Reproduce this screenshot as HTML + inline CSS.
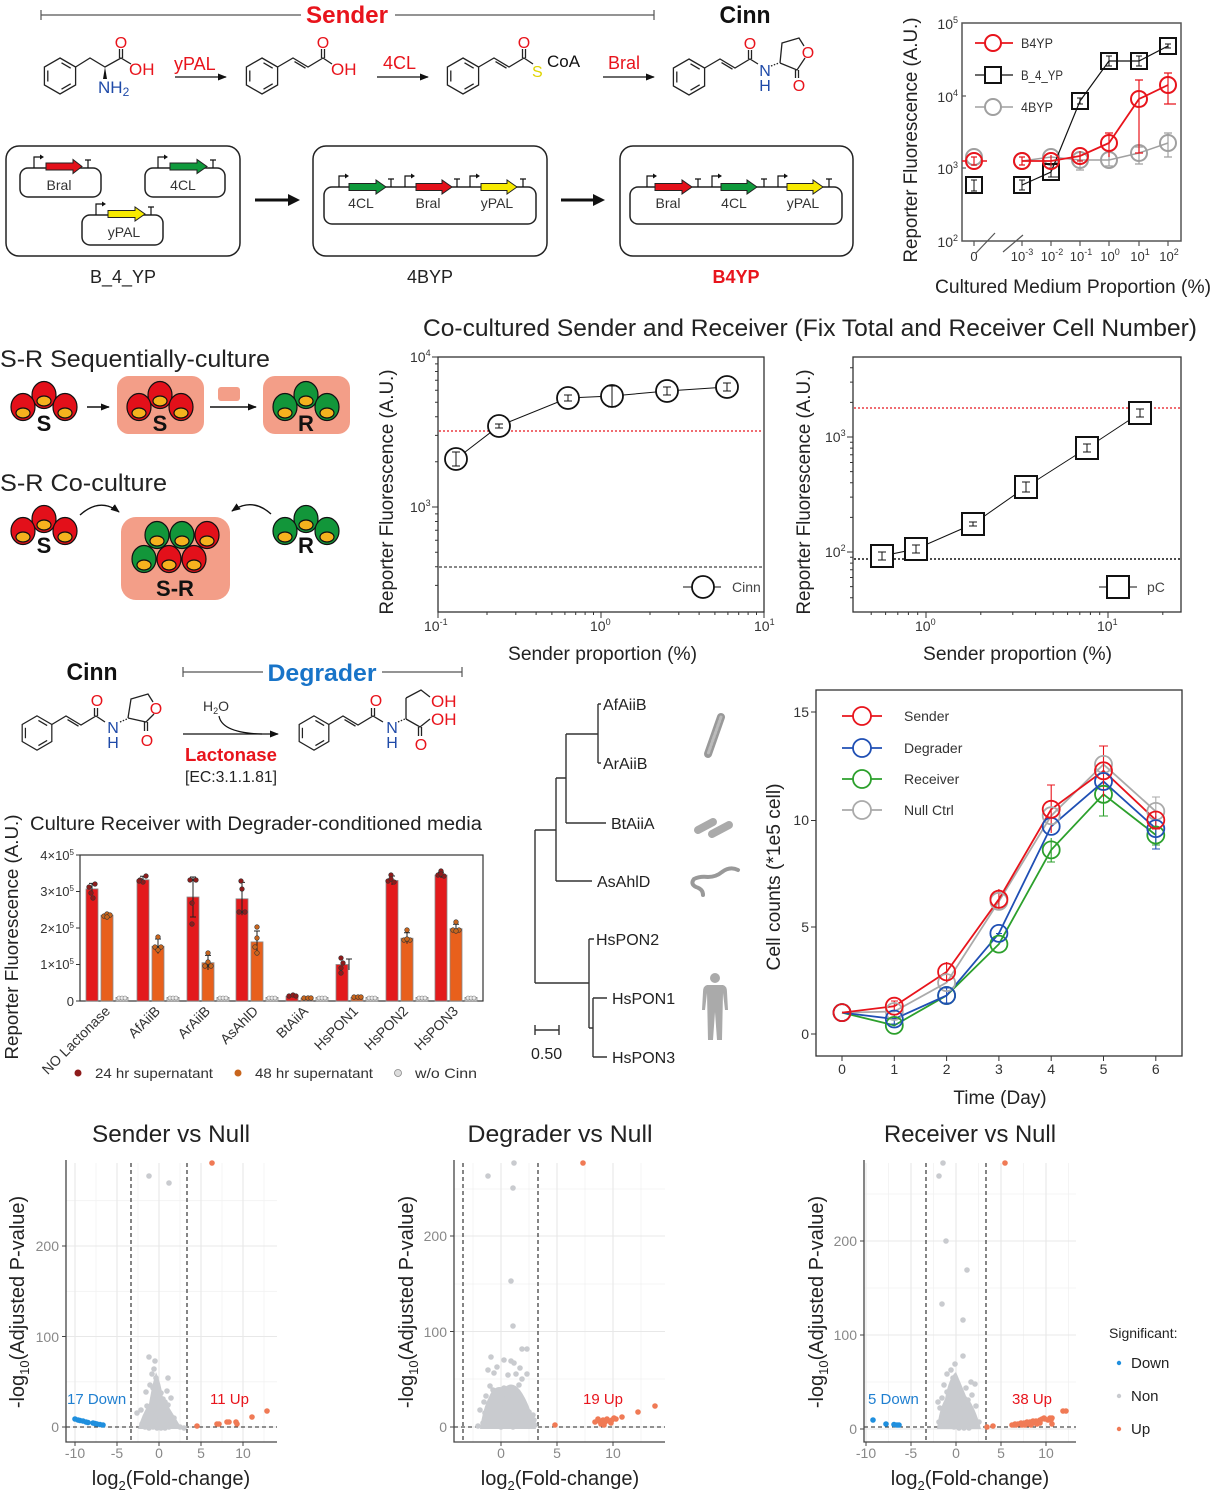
<!DOCTYPE html>
<html><head><meta charset="utf-8">
<style>
html,body{margin:0;padding:0;background:#fff;width:1214px;height:1497px;overflow:hidden}
svg{display:block}
text{font-family:"Liberation Sans","DejaVu Sans",sans-serif}
</style></head><body>
<svg xmlns="http://www.w3.org/2000/svg" xmlns:xlink="http://www.w3.org/1999/xlink" width="1214" height="1497" viewBox="0 0 1214 1497">
<defs>
<g id="bz" fill="none" stroke="#222" stroke-width="1.3">
<polygon points="0,-18 15.6,-9 15.6,9 0,18 -15.6,9 -15.6,-9"/>
<line x1="-12.2" y1="-5.5" x2="-12.2" y2="5.5"/>
<line x1="1.5" y1="-13.2" x2="10.7" y2="-7.8"/>
<line x1="10.7" y1="7.8" x2="1.5" y2="13.2"/>
</g>
<marker id="ar" viewBox="0 0 10 10" refX="9" refY="5" markerWidth="9" markerHeight="9" markerUnits="userSpaceOnUse" orient="auto"><path d="M0,1 L10,5 L0,9 z" fill="#111"/></marker>
<g id="cR" stroke="#111" stroke-width="1.2">
<ellipse cx="0" cy="-8" rx="12" ry="13.5" fill="#e3101a"/><ellipse cx="0" cy="-2" rx="7" ry="5" fill="#f5b21e"/>
<ellipse cx="-21" cy="4" rx="12" ry="13.5" fill="#e3101a"/><ellipse cx="-21" cy="10" rx="7" ry="5" fill="#f5b21e"/>
<ellipse cx="21" cy="4" rx="12" ry="13.5" fill="#e3101a"/><ellipse cx="21" cy="10" rx="7" ry="5" fill="#f5b21e"/>
</g>
<g id="cG" stroke="#111" stroke-width="1.2">
<ellipse cx="0" cy="-8" rx="12" ry="13.5" fill="#12963a"/><ellipse cx="0" cy="-2" rx="7" ry="5" fill="#f5b21e"/>
<ellipse cx="-21" cy="4" rx="12" ry="13.5" fill="#12963a"/><ellipse cx="-21" cy="10" rx="7" ry="5" fill="#f5b21e"/>
<ellipse cx="21" cy="4" rx="12" ry="13.5" fill="#12963a"/><ellipse cx="21" cy="10" rx="7" ry="5" fill="#f5b21e"/>
</g>
</defs>

<!-- ================= TOP PATHWAY ================= -->
<g stroke="#555" stroke-width="1.2">
<line x1="41" y1="15" x2="301" y2="15"/><line x1="41" y1="10" x2="41" y2="20"/>
<line x1="395" y1="15" x2="654" y2="15"/><line x1="654" y1="10" x2="654" y2="20"/>
</g>
<text x="347" y="23" text-anchor="middle" font-size="24" font-weight="bold" fill="#e8141c" textLength="82" lengthAdjust="spacingAndGlyphs">Sender</text>
<text x="745" y="23" text-anchor="middle" font-size="24" font-weight="bold" fill="#111" textLength="51" lengthAdjust="spacingAndGlyphs">Cinn</text>

<!-- Phe -->
<use xlink:href="#bz" x="60" y="76"/>
<g fill="none" stroke="#222" stroke-width="1.3">
<polyline points="75.6,67 90,58 105,67 121,58 131,64"/>
<line x1="119.5" y1="58" x2="119.5" y2="49"/><line x1="122.5" y1="58" x2="122.5" y2="49"/>
</g>
<polygon points="105,67 103,79 107,79" fill="#111"/>
<text x="121" y="48" text-anchor="middle" font-size="16" fill="#e8141c">O</text>
<text x="129" y="75" font-size="17" fill="#e8141c">OH</text>
<text x="98" y="93" font-size="17" fill="#1f4aa8">NH<tspan font-size="12" dy="3">2</tspan></text>
<text x="174" y="70" font-size="18" fill="#e8141c">yPAL</text>
<line x1="175" y1="77" x2="226" y2="77" stroke="#111" stroke-width="1.3" marker-end="url(#ar)"/>

<!-- cinnamic acid -->
<use xlink:href="#bz" x="262" y="76"/>
<g fill="none" stroke="#222" stroke-width="1.3">
<polyline points="277.6,67 293,58 308,67 323,58 332,64"/>
<line x1="294.5" y1="61.6" x2="305.5" y2="68.2"/>
<line x1="321.5" y1="58" x2="321.5" y2="49"/><line x1="324.5" y1="58" x2="324.5" y2="49"/>
</g>
<text x="323" y="48" text-anchor="middle" font-size="16" fill="#e8141c">O</text>
<text x="331" y="75" font-size="17" fill="#e8141c">OH</text>
<text x="383" y="69" font-size="18" fill="#e8141c">4CL</text>
<line x1="377" y1="77" x2="428" y2="77" stroke="#111" stroke-width="1.3" marker-end="url(#ar)"/>

<!-- cinnamoyl CoA -->
<use xlink:href="#bz" x="463" y="76"/>
<g fill="none" stroke="#222" stroke-width="1.3">
<polyline points="478.6,67 494,58 509,67 524,58 533,64"/>
<line x1="495.5" y1="61.6" x2="506.5" y2="68.2"/>
<line x1="522.5" y1="58" x2="522.5" y2="49"/><line x1="525.5" y1="58" x2="525.5" y2="49"/>
</g>
<text x="524" y="48" text-anchor="middle" font-size="16" fill="#e8141c">O</text>
<text x="532" y="77" font-size="16" fill="#e0d400">S</text>
<text x="547" y="67" font-size="17" fill="#111">CoA</text>
<text x="608" y="69" font-size="18" fill="#e8141c">Bral</text>
<line x1="603" y1="77" x2="654" y2="77" stroke="#111" stroke-width="1.3" marker-end="url(#ar)"/>

<!-- Cinn -->
<use xlink:href="#bz" x="689" y="77"/>
<g fill="none" stroke="#222" stroke-width="1.3">
<polyline points="704.6,68 720,59 735,68 750,59 758,64"/>
<line x1="721.5" y1="62.6" x2="732.5" y2="69.2"/>
<line x1="748.5" y1="59" x2="748.5" y2="50"/><line x1="751.5" y1="59" x2="751.5" y2="50"/>
<polyline points="780,63 782,43 799,38 804,46"/>
<polyline points="805,58 797,70 780,63"/>
<line x1="795.5" y1="70" x2="795.5" y2="78"/><line x1="798.5" y1="70" x2="798.5" y2="78"/>
<line x1="771" y1="66" x2="779" y2="63" stroke-dasharray="1.5,1.5"/>
</g>
<text x="750" y="49" text-anchor="middle" font-size="16" fill="#e8141c">O</text>
<text x="765" y="76" text-anchor="middle" font-size="16" fill="#1f4aa8">N</text>
<text x="765" y="91" text-anchor="middle" font-size="16" fill="#1f4aa8">H</text>
<text x="808" y="58" text-anchor="middle" font-size="16" fill="#e8141c">O</text>
<text x="799" y="91" text-anchor="middle" font-size="16" fill="#e8141c">O</text>

<!-- gene boxes -->
<g fill="none" stroke="#222" stroke-width="1.5">
<rect x="6" y="146" width="234" height="110" rx="13"/>
<rect x="313" y="146" width="234" height="110" rx="13"/>
<rect x="620" y="146" width="233" height="110" rx="13"/>
<rect x="20" y="168" width="81" height="29" rx="8"/>
<rect x="145" y="168" width="80" height="29" rx="8"/>
<rect x="82" y="215" width="81" height="30" rx="8"/>
<rect x="324" y="187" width="212" height="37" rx="8"/>
<rect x="630" y="187" width="212" height="37" rx="8"/>
</g>
<g fill="none" stroke="#111" stroke-width="1.2">
<path d="M34,168V157H40M158,168V157H164M96,215V204H102M339,187V176H345M405,187V176H411M470,187V176H476M647,187V176H653M712,187V176H718M778,187V176H784"/>
<path d="M88,168V160M85,160H91M213,168V160M210,160H216M151,215V207M148,207H154M391,187V179M388,179H394M457,187V179M454,179H460M523,187V179M520,179H526M698,187V179M695,179H701M764,187V179M761,179H767M829,187V179M826,179H832"/>
</g>
<g fill="#111">
<polygon points="40,154.5 44,157 40,159.5"/><polygon points="164,154.5 168,157 164,159.5"/><polygon points="102,201.5 106,204 102,206.5"/>
<polygon points="345,173.5 349,176 345,178.5"/><polygon points="411,173.5 415,176 411,178.5"/><polygon points="476,173.5 480,176 476,178.5"/>
<polygon points="653,173.5 657,176 653,178.5"/><polygon points="718,173.5 722,176 718,178.5"/><polygon points="784,173.5 788,176 784,178.5"/>
</g>
<g stroke="#222" stroke-width="1">
<polygon points="46,163 73,163 73,159.5 82,166.5 73,173.5 73,170 46,170" fill="#e3101a"/>
<polygon points="170,163 197,163 197,159.5 207,166.5 197,173.5 197,170 170,170" fill="#0f9a3c"/>
<polygon points="108,210.5 135,210.5 135,207 145,214 135,221 135,217.5 108,217.5" fill="#f7ea00"/>
<polygon points="349,183.5 376,183.5 376,180 386,187 376,194 376,190.5 349,190.5" fill="#0f9a3c"/>
<polygon points="416,183.5 442,183.5 442,180 452,187 442,194 442,190.5 416,190.5" fill="#e3101a"/>
<polygon points="481,183.5 507,183.5 507,180 517,187 507,194 507,190.5 481,190.5" fill="#f7ea00"/>
<polygon points="655,183.5 682,183.5 682,180 692,187 682,194 682,190.5 655,190.5" fill="#e3101a"/>
<polygon points="721,183.5 747,183.5 747,180 757,187 747,194 747,190.5 721,190.5" fill="#0f9a3c"/>
<polygon points="787,183.5 813,183.5 813,180 823,187 813,194 813,190.5 787,190.5" fill="#f7ea00"/>
</g>
<g font-size="14" fill="#333" text-anchor="middle">
<text x="59" y="190">Bral</text><text x="183" y="190">4CL</text><text x="124" y="237">yPAL</text>
<text x="361" y="208">4CL</text><text x="428" y="208">Bral</text><text x="497" y="208">yPAL</text>
<text x="668" y="208">Bral</text><text x="734" y="208">4CL</text><text x="803" y="208">yPAL</text>
</g>
<line x1="255" y1="200" x2="290" y2="200" stroke="#111" stroke-width="3"/><polygon points="288,194 300,200 288,206" fill="#111"/>
<line x1="561" y1="200" x2="595" y2="200" stroke="#111" stroke-width="3"/><polygon points="593,194 605,200 593,206" fill="#111"/>
<text x="123" y="283" text-anchor="middle" font-size="18" fill="#222">B_4_YP</text>
<text x="430" y="283" text-anchor="middle" font-size="18" fill="#222">4BYP</text>
<text x="736" y="283" text-anchor="middle" font-size="18" font-weight="bold" fill="#e8141c">B4YP</text>

<!-- ================= TOP RIGHT CHART ================= -->
<rect x="962" y="23" width="219" height="218" fill="none" stroke="#555" stroke-width="1.5"/>
<g stroke="#555" stroke-width="1.2">
<line x1="962" y1="96" x2="966" y2="96"/><line x1="962" y1="168" x2="966" y2="168"/>
<line x1="974" y1="241" x2="974" y2="246"/><line x1="1022" y1="241" x2="1022" y2="246"/><line x1="1051" y1="241" x2="1051" y2="246"/><line x1="1080" y1="241" x2="1080" y2="246"/><line x1="1109" y1="241" x2="1109" y2="246"/><line x1="1139" y1="241" x2="1139" y2="246"/><line x1="1168" y1="241" x2="1168" y2="246"/>
<line x1="976" y1="253" x2="995" y2="233"/><line x1="1003" y1="252" x2="1023" y2="235"/>
</g>
<g font-size="14" fill="#333" text-anchor="end">
<text x="958" y="29">10<tspan font-size="9" dy="-6">5</tspan></text>
<text x="958" y="102">10<tspan font-size="9" dy="-6">4</tspan></text>
<text x="958" y="174">10<tspan font-size="9" dy="-6">3</tspan></text>
<text x="958" y="247">10<tspan font-size="9" dy="-6">2</tspan></text>
</g>
<g font-size="13" fill="#333" text-anchor="middle">
<text x="974" y="261">0</text>
<text x="1022" y="261">10<tspan font-size="9" dy="-6">-3</tspan></text>
<text x="1052" y="261">10<tspan font-size="9" dy="-6">-2</tspan></text>
<text x="1081" y="261">10<tspan font-size="9" dy="-6">-1</tspan></text>
<text x="1110" y="261">10<tspan font-size="9" dy="-6">0</tspan></text>
<text x="1140" y="261">10<tspan font-size="9" dy="-6">1</tspan></text>
<text x="1169" y="261">10<tspan font-size="9" dy="-6">2</tspan></text>
</g>
<text x="935" y="293" font-size="19" fill="#222" textLength="276" lengthAdjust="spacingAndGlyphs">Cultured Medium Proportion (%)</text>
<text transform="translate(917,140) rotate(-90)" text-anchor="middle" font-size="19" fill="#222" textLength="245" lengthAdjust="spacingAndGlyphs">Reporter Fluorescence (A.U.)</text>
<polyline points="1022,161 1051,157 1080,160 1109,160 1139,153 1168,143" fill="none" stroke="#a0a0a0" stroke-width="1.5"/>
<g stroke="#a0a0a0" stroke-width="1.2" fill="none">
<path d="M1168,133V157M1164,133H1172M1164,157H1172M1139,147V164M1135,147H1143M1135,164H1143M1080,152V170M1076,170H1084M1109,154V166M1105,166H1113"/>
<circle cx="974" cy="157" r="8" stroke-width="2"/><circle cx="1022" cy="161" r="8" stroke-width="2"/><circle cx="1051" cy="157" r="8" stroke-width="2"/><circle cx="1080" cy="160" r="8" stroke-width="2"/><circle cx="1109" cy="160" r="8" stroke-width="2"/><circle cx="1139" cy="153" r="8" stroke-width="2"/><circle cx="1168" cy="143" r="8" stroke-width="2"/>
</g>
<polyline points="1022,185 1051,172 1080,101 1109,61 1139,61 1168,46" fill="none" stroke="#111" stroke-width="1.2"/>
<g stroke="#111" stroke-width="2" fill="none">
<rect x="966" y="177" width="16" height="16"/><rect x="1014" y="177" width="16" height="16"/><rect x="1043" y="164" width="16" height="16"/><rect x="1072" y="93" width="16" height="16"/><rect x="1101" y="53" width="16" height="16"/><rect x="1131" y="53" width="16" height="16"/><rect x="1160" y="38" width="16" height="16"/>
</g>
<g stroke="#111" stroke-width="1" fill="none">
<path d="M974,180V191M971,180H977M971,191H977M1022,180V190M1019,180H1025M1019,190H1025M1051,168V177M1048,168H1054M1048,177H1060M1080,98V104M1077,98H1083M1077,104H1083M1109,56V66M1106,56H1112M1106,66H1112M1139,56V66M1136,56H1142M1136,66H1142M1168,44V48M1165,44H1171M1165,48H1171"/>
</g>
<polyline points="1022,161 1051,161 1080,156 1109,143 1139,99 1168,85" fill="none" stroke="#e8141c" stroke-width="1.8"/>
<g stroke="#e8141c" stroke-width="1.2" fill="none">
<path d="M1139,80V153M1135,80H1143M1135,153H1143M1168,73V104M1164,73H1172M1164,104H1176M1109,133V157M1105,133H1113M1080,151V161M1077,161H1083M1022,157V165M1019,157H1025M1019,165H1025M974,157V165M971,157H977M971,165H977M1051,155V167"/>
<circle cx="974" cy="161" r="8" stroke-width="2"/><circle cx="1022" cy="161" r="8" stroke-width="2"/><circle cx="1051" cy="161" r="8" stroke-width="2"/><circle cx="1080" cy="156" r="8" stroke-width="2"/><circle cx="1109" cy="143" r="8" stroke-width="2"/><circle cx="1139" cy="99" r="8" stroke-width="2"/><circle cx="1168" cy="85" r="8" stroke-width="2"/>
<line x1="962" y1="161" x2="966" y2="161" stroke-width="1.5"/><line x1="982" y1="161" x2="987" y2="161" stroke-width="1.5"/>
</g>
<line x1="975" y1="43" x2="1013" y2="43" stroke="#e8141c" stroke-width="1.8"/><circle cx="993" cy="43" r="8" fill="#fff" stroke="#e8141c" stroke-width="2"/>
<line x1="975" y1="75" x2="1013" y2="75" stroke="#111" stroke-width="1.2"/><rect x="985" y="67" width="16" height="16" fill="#fff" stroke="#111" stroke-width="2"/>
<line x1="975" y1="107" x2="1013" y2="107" stroke="#a0a0a0" stroke-width="1.5"/><circle cx="993" cy="107" r="8" fill="#fff" stroke="#a0a0a0" stroke-width="2"/>
<g font-size="14" fill="#333">
<text x="1021" y="48" textLength="32" lengthAdjust="spacingAndGlyphs">B4YP</text>
<text x="1021" y="80" textLength="42" lengthAdjust="spacingAndGlyphs">B_4_YP</text>
<text x="1021" y="112" textLength="32" lengthAdjust="spacingAndGlyphs">4BYP</text>
</g>

<!-- ================= SECTION 2 LEFT ================= -->
<text x="0" y="367" font-size="24" fill="#222" textLength="270" lengthAdjust="spacingAndGlyphs">S-R Sequentially-culture</text>
<use xlink:href="#cR" x="44" y="403"/>
<text x="44" y="431" text-anchor="middle" font-size="22" font-weight="bold" fill="#111">S</text>
<line x1="87" y1="407" x2="109" y2="407" stroke="#111" stroke-width="1.5" marker-end="url(#ar)"/>
<rect x="117" y="376" width="87" height="58" rx="12" fill="#f39e88"/>
<use xlink:href="#cR" x="160" y="403"/>
<text x="160" y="431" text-anchor="middle" font-size="22" font-weight="bold" fill="#111">S</text>
<rect x="218" y="387" width="22" height="14" rx="3" fill="#f39e88"/>
<line x1="210" y1="407" x2="256" y2="407" stroke="#111" stroke-width="1.5" marker-end="url(#ar)"/>
<rect x="263" y="376" width="87" height="58" rx="12" fill="#f39e88"/>
<use xlink:href="#cG" x="306" y="403"/>
<text x="306" y="431" text-anchor="middle" font-size="22" font-weight="bold" fill="#111">R</text>

<text x="0" y="491" font-size="24" fill="#222" textLength="167" lengthAdjust="spacingAndGlyphs">S-R Co-culture</text>
<use xlink:href="#cR" x="44" y="527"/>
<text x="44" y="553" text-anchor="middle" font-size="22" font-weight="bold" fill="#111">S</text>
<use xlink:href="#cG" x="306" y="527"/>
<text x="306" y="553" text-anchor="middle" font-size="22" font-weight="bold" fill="#111">R</text>
<path d="M80,515 Q100,497 119,512" fill="none" stroke="#111" stroke-width="1.4" marker-end="url(#ar)"/>
<path d="M271,514 Q252,497 232,511" fill="none" stroke="#111" stroke-width="1.4" marker-end="url(#ar)"/>
<rect x="121" y="517" width="109" height="83" rx="15" fill="#f39e88"/>
<g stroke="#111" stroke-width="1.2">
<ellipse cx="157" cy="535" rx="12" ry="13.5" fill="#12963a"/><ellipse cx="157" cy="541" rx="7" ry="5" fill="#f5b21e"/>
<ellipse cx="182" cy="535" rx="12" ry="13.5" fill="#12963a"/><ellipse cx="182" cy="541" rx="7" ry="5" fill="#f5b21e"/>
<ellipse cx="207" cy="535" rx="12" ry="13.5" fill="#e3101a"/><ellipse cx="207" cy="541" rx="7" ry="5" fill="#f5b21e"/>
<ellipse cx="144" cy="559" rx="12" ry="13.5" fill="#12963a"/><ellipse cx="144" cy="565" rx="7" ry="5" fill="#f5b21e"/>
<ellipse cx="169" cy="559" rx="12" ry="13.5" fill="#e3101a"/><ellipse cx="169" cy="565" rx="7" ry="5" fill="#f5b21e"/>
<ellipse cx="194" cy="559" rx="12" ry="13.5" fill="#e3101a"/><ellipse cx="194" cy="565" rx="7" ry="5" fill="#f5b21e"/>
</g>
<text x="175" y="596" text-anchor="middle" font-size="22" font-weight="bold" fill="#111">S-R</text>

<!-- ================= SECTION 2 CHARTS ================= -->
<text x="423" y="336" font-size="24" fill="#222" textLength="774" lengthAdjust="spacingAndGlyphs">Co-cultured Sender and Receiver (Fix Total and Receiver Cell Number)</text>

<rect x="438" y="357" width="326" height="255" fill="none" stroke="#333" stroke-width="1.3"/>
<g stroke="#333" stroke-width="1">
<path d="M438,357H432M438,507H432M438,461.8H435M438,435.4H435M438,416.7H435M438,402.2H435M438,390.3H435M438,380.2H435M438,371.5H435M438,363.9H435M438,513.9H435M438,521.5H435M438,530.2H435M438,540.3H435M438,552.2H435M438,566.7H435M438,585.4H435"/>
<path d="M438,612V618M601,612V618M764,612V618M487,612V615M515.8,612V615M536.1,612V615M551.9,612V615M564.9,612V615M575.7,612V615M585.1,612V615M593.5,612V615M650,612V615M678.8,612V615M699.1,612V615M714.9,612V615M727.9,612V615M738.7,612V615M748.1,612V615M756.5,612V615"/>
</g>
<line x1="439" y1="431" x2="763" y2="431" stroke="#e8141c" stroke-width="1.3" stroke-dasharray="2,2"/>
<line x1="439" y1="567" x2="763" y2="567" stroke="#111" stroke-width="1.1" stroke-dasharray="3,2"/>
<g font-size="14" fill="#333">
<text x="410" y="362">10<tspan font-size="9" dy="-6">4</tspan></text>
<text x="410" y="512">10<tspan font-size="9" dy="-6">3</tspan></text>
<text x="424" y="631">10<tspan font-size="9" dy="-6">-1</tspan></text>
<text x="590" y="631">10<tspan font-size="9" dy="-6">0</tspan></text>
<text x="754" y="631">10<tspan font-size="9" dy="-6">1</tspan></text>
</g>
<text transform="translate(393,492) rotate(-90)" text-anchor="middle" font-size="19" fill="#222" textLength="245" lengthAdjust="spacingAndGlyphs">Reporter Fluorescence (A.U.)</text>
<text x="508" y="660" font-size="19" fill="#222" textLength="189" lengthAdjust="spacingAndGlyphs">Sender proportion (%)</text>
<polyline points="456,459 499,426 568,398 612,396 667,391 727,387" fill="none" stroke="#111" stroke-width="1"/>
<g fill="#fff" stroke="#111" stroke-width="1.8">
<circle cx="456" cy="459" r="11"/><circle cx="499" cy="426" r="11"/><circle cx="568" cy="398" r="11"/><circle cx="612" cy="396" r="11"/><circle cx="667" cy="391" r="11"/><circle cx="727" cy="387" r="11"/>
</g>
<path d="M456,452V466M452,452H460M452,466H460M499,424V428M495,424H503M495,428H503M568,395V401M564,395H572M564,401H572M612,386V407M608,386H616M608,407H616M667,387V395M663,387H671M663,395H671M727,383V391M723,383H731M723,391H731" stroke="#111" stroke-width="1" fill="none"/>
<line x1="683" y1="587" x2="721" y2="587" stroke="#111" stroke-width="1"/><circle cx="703" cy="587" r="11" fill="#fff" stroke="#111" stroke-width="1.8"/>
<text x="732" y="592" font-size="14" fill="#444">Cinn</text>

<rect x="853" y="357" width="328" height="255" fill="none" stroke="#333" stroke-width="1.3"/>
<g stroke="#333" stroke-width="1">
<path d="M853,437H847M853,552H847M853,517.4H850M853,497.1H850M853,482.8H850M853,471.6H850M853,462.5H850M853,454.8H850M853,448.1H850M853,442.3H850M853,402.4H850M853,382.1H850M853,367.8H850M853,557.3H850M853,563.1H850M853,569.8H850M853,577.5H850M853,586.6H850M853,597.8H850"/>
<path d="M926,612V618M1108,612V618M871.2,612V615M885.6,612V615M897.8,612V615M908.4,612V615M917.7,612V615M980.8,612V615M1012.8,612V615M1035.6,612V615M1053.2,612V615M1067.6,612V615M1079.8,612V615M1090.4,612V615M1099.7,612V615M1162.8,612V615"/>
</g>
<line x1="854" y1="408" x2="1180" y2="408" stroke="#e8141c" stroke-width="1.3" stroke-dasharray="2,2"/>
<line x1="854" y1="559" x2="1180" y2="559" stroke="#111" stroke-width="1.6" stroke-dasharray="2,2"/>
<g font-size="14" fill="#333">
<text x="825" y="442">10<tspan font-size="9" dy="-6">3</tspan></text>
<text x="825" y="557">10<tspan font-size="9" dy="-6">2</tspan></text>
<text x="915" y="631">10<tspan font-size="9" dy="-6">0</tspan></text>
<text x="1097" y="631">10<tspan font-size="9" dy="-6">1</tspan></text>
</g>
<text transform="translate(810,492) rotate(-90)" text-anchor="middle" font-size="19" fill="#222" textLength="245" lengthAdjust="spacingAndGlyphs">Reporter Fluorescence (A.U.)</text>
<text x="923" y="660" font-size="19" fill="#222" textLength="189" lengthAdjust="spacingAndGlyphs">Sender proportion (%)</text>
<polyline points="882,556 916,549 973,524 1026,487 1087,448 1140,413" fill="none" stroke="#111" stroke-width="1"/>
<g fill="#fff" stroke="#111" stroke-width="2">
<rect x="871" y="545" width="22" height="22"/><rect x="905" y="538" width="22" height="22"/><rect x="962" y="513" width="22" height="22"/><rect x="1015" y="476" width="22" height="22"/><rect x="1076" y="437" width="22" height="22"/><rect x="1129" y="402" width="22" height="22"/>
</g>
<path d="M882,552V560M878,552H886M878,560H886M916,545V553M912,545H920M912,553H920M973,522V526M969,522H977M969,526H977M1026,482V492M1022,482H1030M1022,492H1030M1087,444V452M1083,444H1091M1083,452H1091M1140,409V417M1136,409H1144M1136,417H1144" stroke="#111" stroke-width="1" fill="none"/>
<line x1="1099" y1="587" x2="1137" y2="587" stroke="#111" stroke-width="1"/><rect x="1107" y="576" width="22" height="22" fill="#fff" stroke="#111" stroke-width="2"/>
<text x="1147" y="592" font-size="14" fill="#444">pC</text>

<!-- ================= SECTION 3: DEGRADER ================= -->
<text x="92" y="680" text-anchor="middle" font-size="24" font-weight="bold" fill="#111" textLength="51" lengthAdjust="spacingAndGlyphs">Cinn</text>
<g stroke="#555" stroke-width="1.2">
<line x1="183" y1="672" x2="263" y2="672"/><line x1="183" y1="667" x2="183" y2="677"/>
<line x1="382" y1="672" x2="462" y2="672"/><line x1="462" y1="667" x2="462" y2="677"/>
</g>
<text x="322" y="681" text-anchor="middle" font-size="24" font-weight="bold" fill="#1874c8" textLength="109" lengthAdjust="spacingAndGlyphs">Degrader</text>
<use xlink:href="#bz" transform="translate(37,733) scale(0.95)"/>
<g fill="none" stroke="#222" stroke-width="1.3">
<polyline points="51.8,724.5 66,716 81,725 96,716 105,722"/>
<line x1="67.5" y1="719.6" x2="78.5" y2="726.2"/>
<line x1="94.5" y1="716" x2="94.5" y2="708"/><line x1="97.5" y1="716" x2="97.5" y2="708"/>
<polyline points="128,718 131,699 148,694 153,702"/>
<polyline points="154,714 146,722 128,718"/>
<line x1="144.5" y1="722" x2="144.5" y2="731"/><line x1="147.5" y1="722" x2="147.5" y2="731"/>
<line x1="120" y1="722" x2="127" y2="719" stroke-dasharray="1.5,1.5"/>
</g>
<text x="97" y="706" text-anchor="middle" font-size="16" fill="#e8141c">O</text>
<text x="113" y="733" text-anchor="middle" font-size="16" fill="#1f4aa8">N</text>
<text x="113" y="748" text-anchor="middle" font-size="16" fill="#1f4aa8">H</text>
<text x="156" y="714" text-anchor="middle" font-size="16" fill="#e8141c">O</text>
<text x="147" y="746" text-anchor="middle" font-size="16" fill="#e8141c">O</text>
<text x="203" y="711" font-size="14" fill="#333">H<tspan font-size="9" dy="3">2</tspan><tspan dy="-3">O</tspan></text>
<path d="M219,716 Q222,733 262,734" fill="none" stroke="#111" stroke-width="1.2"/>
<line x1="183" y1="734" x2="278" y2="734" stroke="#111" stroke-width="1.3" marker-end="url(#ar)"/>
<text x="231" y="761" text-anchor="middle" font-size="18" font-weight="bold" fill="#e8141c" textLength="92" lengthAdjust="spacingAndGlyphs">Lactonase</text>
<text x="231" y="782" text-anchor="middle" font-size="16" fill="#222" textLength="92" lengthAdjust="spacingAndGlyphs">[EC:3.1.1.81]</text>
<use xlink:href="#bz" transform="translate(314,733) scale(0.95)"/>
<g fill="none" stroke="#222" stroke-width="1.3">
<polyline points="328.8,724.5 343,716 358,725 373,716 383,722"/>
<line x1="344.5" y1="719.6" x2="355.5" y2="726.2"/>
<line x1="371.5" y1="716" x2="371.5" y2="708"/><line x1="374.5" y1="716" x2="374.5" y2="708"/>
<polyline points="406,698 421,690 430,697"/>
<line x1="406" y1="698" x2="406" y2="719"/>
<polyline points="406,719 420,727 430,719"/>
<line x1="418.5" y1="727" x2="418.5" y2="736"/><line x1="421.5" y1="727" x2="421.5" y2="736"/>
<line x1="398" y1="722" x2="405" y2="719" stroke-dasharray="1.5,1.5"/>
</g>
<text x="376" y="706" text-anchor="middle" font-size="16" fill="#e8141c">O</text>
<text x="392" y="733" text-anchor="middle" font-size="16" fill="#1f4aa8">N</text>
<text x="392" y="748" text-anchor="middle" font-size="16" fill="#1f4aa8">H</text>
<text x="431" y="707" font-size="17" fill="#e8141c">OH</text>
<text x="431" y="725" font-size="17" fill="#e8141c">OH</text>
<text x="421" y="750" text-anchor="middle" font-size="16" fill="#e8141c">O</text>

<!-- bar chart -->
<text x="30" y="830" font-size="19" fill="#222" textLength="452" lengthAdjust="spacingAndGlyphs">Culture Receiver with Degrader-conditioned media</text>
<text transform="translate(18,937) rotate(-90)" text-anchor="middle" font-size="18" fill="#222" textLength="245" lengthAdjust="spacingAndGlyphs">Reporter Fluorescence (A.U.)</text>
<rect x="80" y="855" width="403" height="146" fill="none" stroke="#333" stroke-width="1.2"/>
<g stroke="#333" stroke-width="1">
<path d="M80,855H76M80,891.5H76M80,928H76M80,964.5H76M80,1001H76"/>
</g>
<g font-size="13" fill="#333" text-anchor="end">
<text x="74" y="860">4×10<tspan font-size="8" dy="-5">5</tspan></text>
<text x="74" y="896">3×10<tspan font-size="8" dy="-5">5</tspan></text>
<text x="74" y="933">2×10<tspan font-size="8" dy="-5">5</tspan></text>
<text x="74" y="969">1×10<tspan font-size="8" dy="-5">5</tspan></text>
<text x="74" y="1006">0</text>
</g>
<g stroke="#8a8a8a" stroke-width="0.8">
<rect x="86" y="888.9" width="12" height="112.1" fill="#e31a1c"/>
<rect x="101" y="915.2" width="12" height="85.8" fill="#e8601c"/>
<rect x="137" y="879.8" width="12" height="121.2" fill="#e31a1c"/>
<rect x="152" y="946.3" width="12" height="54.7" fill="#e8601c"/>
<rect x="187" y="897" width="12" height="104" fill="#e31a1c"/>
<rect x="202" y="962.7" width="12" height="38.3" fill="#e8601c"/>
<rect x="236" y="898.8" width="12" height="102.2" fill="#e31a1c"/>
<rect x="251" y="941.9" width="12" height="59.1" fill="#e8601c"/>
<rect x="286" y="996.3" width="12" height="4.7" fill="#e31a1c"/>
<rect x="301" y="998.1" width="12" height="2.9" fill="#e8601c"/>
<rect x="336" y="964.5" width="12" height="36.5" fill="#e31a1c"/>
<rect x="351" y="997.4" width="12" height="3.6" fill="#e8601c"/>
<rect x="386" y="880.5" width="12" height="120.5" fill="#e31a1c"/>
<rect x="401" y="938.2" width="12" height="62.8" fill="#e8601c"/>
<rect x="435" y="875.1" width="12" height="125.9" fill="#e31a1c"/>
<rect x="450" y="928.7" width="12" height="72.3" fill="#e8601c"/>
<rect x="116" y="997.4" width="12" height="3.6" fill="#e0e0e0"/>
<rect x="167" y="997.4" width="12" height="3.6" fill="#e0e0e0"/>
<rect x="217" y="997.4" width="12" height="3.6" fill="#e0e0e0"/>
<rect x="266" y="997.4" width="12" height="3.6" fill="#e0e0e0"/>
<rect x="316" y="997.4" width="12" height="3.6" fill="#e0e0e0"/>
<rect x="366" y="997.4" width="12" height="3.6" fill="#e0e0e0"/>
<rect x="416" y="997.4" width="12" height="3.6" fill="#e0e0e0"/>
<rect x="465" y="997.4" width="12" height="3.6" fill="#e0e0e0"/>
</g>
<g stroke="#222" stroke-width="1" fill="none">
<path d="M92,883.4V894.4M89,883.4H95M143,876.2V883.5M140,876.2H146M193,877V917M190,877H196M190,917H196M242,882.4V915.2M239,882.4H245M349,959V970M346,959H352M392,876V885M389,876H395M441,872.2V878M438,872.2H444"/>
<path d="M158,939V953.6M155,939H161M208,955.4V970M205,955.4H211M257,931V952.9M254,931H260M407,932.7V943.7M404,932.7H410M456,924.3V933.1M453,924.3H459"/>
</g>
<g fill="#8e1b1b" stroke="#333" stroke-width="0.6">
<circle cx="89" cy="887" r="2.3"/><circle cx="95" cy="884" r="2.3"/><circle cx="91" cy="893" r="2.3"/><circle cx="93" cy="898" r="2.3"/>
<circle cx="140" cy="880" r="2.3"/><circle cx="146" cy="876" r="2.3"/><circle cx="143" cy="882" r="2.3"/><circle cx="139" cy="881" r="2.3"/>
<circle cx="190" cy="880" r="2.3"/><circle cx="196" cy="880" r="2.3"/><circle cx="192" cy="903" r="2.3"/><circle cx="192" cy="924" r="2.3"/>
<circle cx="241" cy="881" r="2.3"/><circle cx="242" cy="889" r="2.3"/><circle cx="239" cy="912" r="2.3"/><circle cx="245" cy="912" r="2.3"/>
<circle cx="289" cy="996" r="2.3"/><circle cx="293" cy="995" r="2.3"/><circle cx="296" cy="996" r="2.3"/>
<circle cx="341" cy="958" r="2.3"/><circle cx="343" cy="963" r="2.3"/><circle cx="341" cy="968" r="2.3"/><circle cx="341" cy="973" r="2.3"/>
<circle cx="391" cy="875" r="2.3"/><circle cx="388" cy="881" r="2.3"/><circle cx="394" cy="882" r="2.3"/><circle cx="391" cy="879" r="2.3"/>
<circle cx="441" cy="871" r="2.3"/><circle cx="438" cy="875" r="2.3"/><circle cx="444" cy="876" r="2.3"/><circle cx="441" cy="874" r="2.3"/>
</g>
<g fill="#c8651d" stroke="#333" stroke-width="0.6">
<circle cx="104" cy="916" r="2.3"/><circle cx="107" cy="914" r="2.3"/><circle cx="110" cy="915" r="2.3"/><circle cx="107" cy="917" r="2.3"/>
<circle cx="158" cy="937" r="2.3"/><circle cx="155" cy="947" r="2.3"/><circle cx="161" cy="947" r="2.3"/><circle cx="158" cy="950" r="2.3"/>
<circle cx="208" cy="953" r="2.3"/><circle cx="205" cy="966" r="2.3"/><circle cx="211" cy="966" r="2.3"/><circle cx="208" cy="962" r="2.3"/>
<circle cx="257" cy="927" r="2.3"/><circle cx="257" cy="938" r="2.3"/><circle cx="255" cy="947" r="2.3"/><circle cx="257" cy="953" r="2.3"/>
<circle cx="304" cy="998" r="2.3"/><circle cx="308" cy="998" r="2.3"/><circle cx="311" cy="998" r="2.3"/>
<circle cx="354" cy="997" r="2.3"/><circle cx="358" cy="997" r="2.3"/><circle cx="361" cy="997" r="2.3"/>
<circle cx="407" cy="930" r="2.3"/><circle cx="404" cy="940" r="2.3"/><circle cx="410" cy="940" r="2.3"/><circle cx="407" cy="939" r="2.3"/>
<circle cx="456" cy="922" r="2.3"/><circle cx="453" cy="930" r="2.3"/><circle cx="459" cy="930" r="2.3"/><circle cx="456" cy="931" r="2.3"/>
</g>
<g fill="#eee" stroke="#777" stroke-width="0.6">
<circle cx="119" cy="998" r="2"/><circle cx="122" cy="998" r="2"/><circle cx="125" cy="998" r="2"/>
<circle cx="170" cy="998" r="2"/><circle cx="173" cy="998" r="2"/><circle cx="176" cy="998" r="2"/>
<circle cx="220" cy="998" r="2"/><circle cx="223" cy="998" r="2"/><circle cx="226" cy="998" r="2"/>
<circle cx="269" cy="998" r="2"/><circle cx="272" cy="998" r="2"/><circle cx="275" cy="998" r="2"/>
<circle cx="319" cy="998" r="2"/><circle cx="322" cy="998" r="2"/><circle cx="325" cy="998" r="2"/>
<circle cx="369" cy="998" r="2"/><circle cx="372" cy="998" r="2"/><circle cx="375" cy="998" r="2"/>
<circle cx="419" cy="998" r="2"/><circle cx="422" cy="998" r="2"/><circle cx="425" cy="998" r="2"/>
<circle cx="468" cy="998" r="2"/><circle cx="471" cy="998" r="2"/><circle cx="474" cy="998" r="2"/>
</g>
<g font-size="14" fill="#333" text-anchor="end">
<text transform="translate(111,1012) rotate(-45)">NO Lactonase</text>
<text transform="translate(161,1012) rotate(-45)">AfAiiB</text>
<text transform="translate(211,1012) rotate(-45)">ArAiiB</text>
<text transform="translate(259,1012) rotate(-45)">AsAhlD</text>
<text transform="translate(309,1012) rotate(-45)">BtAiiA</text>
<text transform="translate(359,1012) rotate(-45)">HsPON1</text>
<text transform="translate(409,1012) rotate(-45)">HsPON2</text>
<text transform="translate(459,1012) rotate(-45)">HsPON3</text>
</g>
<circle cx="78" cy="1073" r="3.5" fill="#8e1b1b"/><circle cx="238" cy="1073" r="3.5" fill="#c8651d"/><circle cx="398" cy="1073" r="3.5" fill="#ddd" stroke="#888" stroke-width="0.8"/>
<g font-size="14" fill="#333">
<text x="95" y="1078" textLength="118" lengthAdjust="spacingAndGlyphs">24 hr supernatant</text>
<text x="255" y="1078" textLength="118" lengthAdjust="spacingAndGlyphs">48 hr supernatant</text>
<text x="415" y="1078" textLength="62" lengthAdjust="spacingAndGlyphs">w/o Cinn</text>
</g>

<!-- tree -->
<g stroke="#333" stroke-width="1.4" fill="none">
<path d="M598,704V763M598,704H601M598,763H601M566,734H598M566,734V823M566,823H606M556,778H566M556,778V881M556,881H592M535,830H556M535,830V983M535,983H589M589,939V1028M589,939H594M589,1028H593M593,998V1057M593,998H607M593,1057H607"/>
<path d="M535,1030H559M535,1025V1035M559,1025V1035"/>
</g>
<g font-size="16" fill="#222">
<text x="603" y="710">AfAiiB</text><text x="603" y="769">ArAiiB</text><text x="611" y="829">BtAiiA</text><text x="597" y="887">AsAhlD</text>
<text x="596" y="945">HsPON2</text><text x="612" y="1004">HsPON1</text><text x="612" y="1063">HsPON3</text>
<text x="531" y="1059">0.50</text>
</g>
<line x1="721" y1="717" x2="708" y2="754" stroke="#999" stroke-width="8" stroke-linecap="round"/>
<line x1="721" y1="717" x2="708" y2="754" stroke="#bbb" stroke-width="3" stroke-linecap="round" stroke-dasharray="2,2"/>
<line x1="698" y1="830" x2="713" y2="822" stroke="#aaa" stroke-width="8" stroke-linecap="round"/>
<line x1="712" y1="834" x2="729" y2="825" stroke="#aaa" stroke-width="8" stroke-linecap="round"/>
<path d="M738,870 Q730,866 722,872 Q716,877 708,877 Q700,876 694,879 Q690,884 696,887 Q703,889 703,895" fill="none" stroke="#999" stroke-width="4" stroke-linecap="round"/>
<g fill="#aaa">
<circle cx="715" cy="978" r="5"/>
<path d="M707,985 H723 Q727,986 727,992 L728,1010 L725,1010 L723,993 L722,1040 L717,1040 L715,1012 L713,1040 L708,1040 L707,993 L705,1010 L702,1010 L703,992 Q703,986 707,985 Z"/>
</g>

<!-- cell count chart -->
<rect x="816" y="690" width="366" height="366" fill="none" stroke="#333" stroke-width="1.3"/>
<g stroke="#333" stroke-width="1">
<path d="M816,712H811M816,820.5H811M816,927H811M816,1034H811"/>
<path d="M842,1056V1061M894.3,1056V1061M946.6,1056V1061M998.9,1056V1061M1051.2,1056V1061M1103.5,1056V1061M1155.8,1056V1061"/>
</g>
<g font-size="14" fill="#333">
<text x="809" y="717" text-anchor="end">15</text><text x="809" y="825" text-anchor="end">10</text><text x="809" y="932" text-anchor="end">5</text><text x="809" y="1039" text-anchor="end">0</text>
<g text-anchor="middle"><text x="842" y="1074">0</text><text x="894.3" y="1074">1</text><text x="946.6" y="1074">2</text><text x="998.9" y="1074">3</text><text x="1051.2" y="1074">4</text><text x="1103.5" y="1074">5</text><text x="1155.8" y="1074">6</text></g>
</g>
<text transform="translate(780,877) rotate(-90)" text-anchor="middle" font-size="19" fill="#222" textLength="187" lengthAdjust="spacingAndGlyphs">Cell counts (*1e5 cell)</text>
<text x="1000" y="1104" text-anchor="middle" font-size="19" fill="#222">Time (Day)</text>
<g fill="none" stroke-width="1.8">
<polyline points="842,1012.6 894.3,1011.5 946.6,982.6 998.9,901.3 1051.2,815.7 1103.5,764.4 1155.8,811.4" stroke="#aaaaaa"/>
<polyline points="842,1012.6 894.3,1025.4 946.6,995.5 998.9,944.1 1051.2,849.9 1103.5,794.3 1155.8,835" stroke="#2ca02c"/>
<polyline points="842,1012.6 894.3,1019 946.6,995.5 998.9,933.4 1051.2,826.4 1103.5,781.5 1155.8,828.6" stroke="#1f4fb4"/>
<polyline points="842,1012.6 894.3,1006.2 946.6,971.9 998.9,899.2 1051.2,809.3 1103.5,770.8 1155.8,820" stroke="#e8141c"/>
</g>
<g fill="none" stroke-width="1.1">
<path d="M1155.8,797V827M1152,797H1160M1103.5,756V779" stroke="#aaaaaa"/>
<path d="M1051.2,838V862M1047,862H1055M1103.5,783V816M1099,816H1108M1155.8,827V845M1152,845H1160" stroke="#2ca02c"/>
<path d="M1155.8,816V849M1152,849H1160M946.6,988V1003M943,988H950M943,1003H950M894.3,1014V1024M891,1024H898M998.9,932V935M996,933.5H1002" stroke="#1f4fb4"/>
<path d="M1051.2,785V833M1047,785H1055M1103.5,746V797M1099,746H1108M998.9,889V910M946.6,962V982M894.3,1001V1011M891,1001H898M891,1011H898M1155.8,812V829M1152,812H1160M1152,829H1160" stroke="#e8141c"/>
</g>
<g fill="none" stroke-width="1.8">
<g stroke="#aaaaaa"><circle cx="842" cy="1012.6" r="8.5"/><circle cx="894.3" cy="1011.5" r="8.5"/><circle cx="946.6" cy="982.6" r="8.5"/><circle cx="998.9" cy="901.3" r="8.5"/><circle cx="1051.2" cy="815.7" r="8.5"/><circle cx="1103.5" cy="764.4" r="8.5"/><circle cx="1155.8" cy="811.4" r="8.5"/></g>
<g stroke="#2ca02c"><circle cx="842" cy="1012.6" r="8.5"/><circle cx="894.3" cy="1025.4" r="8.5"/><circle cx="946.6" cy="995.5" r="8.5"/><circle cx="998.9" cy="944.1" r="8.5"/><circle cx="1051.2" cy="849.9" r="8.5"/><circle cx="1103.5" cy="794.3" r="8.5"/><circle cx="1155.8" cy="835" r="8.5"/></g>
<g stroke="#1f4fb4"><circle cx="842" cy="1012.6" r="8.5"/><circle cx="894.3" cy="1019" r="8.5"/><circle cx="946.6" cy="995.5" r="8.5"/><circle cx="998.9" cy="933.4" r="8.5"/><circle cx="1051.2" cy="826.4" r="8.5"/><circle cx="1103.5" cy="781.5" r="8.5"/><circle cx="1155.8" cy="828.6" r="8.5"/></g>
<g stroke="#e8141c"><circle cx="842" cy="1012.6" r="8.5"/><circle cx="894.3" cy="1006.2" r="8.5"/><circle cx="946.6" cy="971.9" r="8.5"/><circle cx="998.9" cy="899.2" r="8.5"/><circle cx="1051.2" cy="809.3" r="8.5"/><circle cx="1103.5" cy="770.8" r="8.5"/><circle cx="1155.8" cy="820" r="8.5"/></g>
</g>
<g stroke-width="1.8" fill="#fff">
<line x1="842" y1="716" x2="882" y2="716" stroke="#e8141c"/><circle cx="862" cy="716" r="9" stroke="#e8141c"/>
<line x1="842" y1="748" x2="882" y2="748" stroke="#1f4fb4"/><circle cx="862" cy="748" r="9" stroke="#1f4fb4"/>
<line x1="842" y1="779" x2="882" y2="779" stroke="#2ca02c"/><circle cx="862" cy="779" r="9" stroke="#2ca02c"/>
<line x1="842" y1="810" x2="882" y2="810" stroke="#aaaaaa"/><circle cx="862" cy="810" r="9" stroke="#aaaaaa"/>
</g>
<g font-size="14" fill="#333">
<text x="904" y="721">Sender</text><text x="904" y="753">Degrader</text><text x="904" y="784">Receiver</text><text x="904" y="815">Null Ctrl</text>
</g>

<!-- ================= VOLCANO PLOTS ================= -->
<!-- Plot A -->
<text x="171" y="1142" text-anchor="middle" font-size="24" fill="#222" textLength="158" lengthAdjust="spacingAndGlyphs">Sender vs Null</text>
<g stroke="#f2f2f2" stroke-width="0.8">
<path d="M66,1381.8H277M66,1291.3H277M66,1200.7H277M96,1163V1442M138,1163V1442M180,1163V1442M222,1163V1442M264,1163V1442"/>
</g>
<g stroke="#e8e8e8" stroke-width="1.1">
<path d="M66,1427H277M66,1336.5H277M66,1246H277M75,1163V1442M117,1163V1442M159,1163V1442M201,1163V1442M243,1163V1442"/>
</g>
<g stroke="#222" stroke-width="1.1" stroke-dasharray="4,3">
<path d="M131,1163V1442M187,1163V1442M66,1427H277"/>
</g>
<path d="M138,1429 Q142,1414 149,1404 Q152,1385 156,1372 Q161,1383 163,1398 Q171,1410 182,1429 Z" fill="#c9cbcf"/>
<g fill="#c9cbcf">
<circle cx="149" cy="1176" r="2.8"/><circle cx="169" cy="1183" r="2.8"/><circle cx="149" cy="1357" r="2.8"/><circle cx="155" cy="1361" r="2.8"/><circle cx="154" cy="1369" r="2.8"/><circle cx="152" cy="1374" r="2.8"/><circle cx="156" cy="1378" r="2.8"/><circle cx="150" cy="1385" r="2.8"/><circle cx="153" cy="1388" r="2.8"/><circle cx="146" cy="1392" r="2.8"/><circle cx="168" cy="1378" r="2.8"/><circle cx="161" cy="1393" r="2.8"/><circle cx="158" cy="1396" r="2.8"/><circle cx="163" cy="1399" r="2.8"/><circle cx="165" cy="1402" r="2.8"/><circle cx="147" cy="1406" r="2.8"/><circle cx="141" cy="1410" r="2.8"/><circle cx="137" cy="1413" r="2.8"/><circle cx="155" cy="1404" r="2.8"/><circle cx="159" cy="1407" r="2.8"/><circle cx="162" cy="1410" r="2.8"/><circle cx="166" cy="1412" r="2.8"/><circle cx="170" cy="1415" r="2.8"/><circle cx="174" cy="1418" r="2.8"/><circle cx="152" cy="1414" r="2.8"/><circle cx="156" cy="1416" r="2.8"/><circle cx="160" cy="1418" r="2.8"/><circle cx="164" cy="1420" r="2.8"/><circle cx="150" cy="1420" r="2.8"/><circle cx="146" cy="1422" r="2.8"/><circle cx="142" cy="1424" r="2.8"/><circle cx="155" cy="1422" r="2.8"/><circle cx="159" cy="1424" r="2.8"/><circle cx="163" cy="1425" r="2.8"/><circle cx="167" cy="1425" r="2.8"/><circle cx="171" cy="1424" r="2.8"/><circle cx="176" cy="1426" r="2.8"/><circle cx="180" cy="1427" r="2.8"/><circle cx="184" cy="1428" r="2.8"/><circle cx="153" cy="1427" r="2.8"/><circle cx="157" cy="1428" r="2.8"/><circle cx="161" cy="1428" r="2.8"/><circle cx="149" cy="1428" r="2.8"/><circle cx="145" cy="1427" r="2.8"/><circle cx="165" cy="1428" r="2.8"/><circle cx="169" cy="1427" r="2.8"/><circle cx="158" cy="1413" r="2.8"/><circle cx="162" cy="1402" r="2.8"/><circle cx="168" cy="1405" r="2.8"/><circle cx="171" cy="1398" r="2.8"/><circle cx="167" cy="1391" r="2.8"/><circle cx="154" cy="1409" r="2.8"/><circle cx="160" cy="1420" r="2.8"/>
</g>
<g fill="#1f8fde">
<circle cx="75" cy="1419" r="2.8"/><circle cx="78" cy="1420" r="2.8"/><circle cx="80" cy="1420.5" r="2.8"/><circle cx="83" cy="1421" r="2.8"/><circle cx="86" cy="1422" r="2.8"/><circle cx="88" cy="1422.5" r="2.8"/><circle cx="93" cy="1423" r="2.8"/><circle cx="95" cy="1423.5" r="2.8"/><circle cx="97" cy="1424" r="2.8"/><circle cx="100" cy="1424.5" r="2.8"/><circle cx="103" cy="1425" r="2.8"/>
</g>
<g fill="#f07a55">
<circle cx="197" cy="1426" r="2.8"/><circle cx="217" cy="1424" r="2.8"/><circle cx="219" cy="1424" r="2.8"/><circle cx="227" cy="1422" r="2.8"/><circle cx="229" cy="1422" r="2.8"/><circle cx="236" cy="1422" r="2.8"/><circle cx="237" cy="1424" r="2.8"/><circle cx="252" cy="1417" r="2.8"/><circle cx="267" cy="1411" r="2.8"/><circle cx="212" cy="1163" r="2.8"/>
</g>
<path d="M66,1160V1442H277" fill="none" stroke="#444" stroke-width="1.3"/>
<g stroke="#444" stroke-width="1"><path d="M66,1427H62M66,1336.5H62M66,1246H62M75,1442V1446M117,1442V1446M159,1442V1446M201,1442V1446M243,1442V1446"/></g>
<g font-size="14" fill="#888"><text x="59" y="1432" text-anchor="end">0</text><text x="59" y="1342" text-anchor="end">100</text><text x="59" y="1251" text-anchor="end">200</text>
<g text-anchor="middle"><text x="75" y="1458">-10</text><text x="117" y="1458">-5</text><text x="159" y="1458">0</text><text x="201" y="1458">5</text><text x="243" y="1458">10</text></g></g>
<text x="67" y="1404" font-size="15" fill="#1f7fd0">17 Down</text>
<text x="210" y="1404" font-size="15" fill="#e8141c">11 Up</text>
<text transform="translate(24,1302) rotate(-90)" text-anchor="middle" font-size="20" fill="#222">-log<tspan font-size="13" dy="5">10</tspan><tspan dy="-5">(Adjusted P-value)</tspan></text>
<text x="171" y="1485" text-anchor="middle" font-size="20" fill="#222">log<tspan font-size="13" dy="5">2</tspan><tspan dy="-5">(Fold-change)</tspan></text>

<!-- Plot B -->
<text x="560" y="1142" text-anchor="middle" font-size="24" fill="#222" textLength="185" lengthAdjust="spacingAndGlyphs">Degrader vs Null</text>
<g stroke="#f2f2f2" stroke-width="0.8">
<path d="M454,1379H665M454,1284H665M454,1189H665M473,1163V1442M529,1163V1442M585,1163V1442M641,1163V1442"/>
</g>
<g stroke="#e8e8e8" stroke-width="1.1">
<path d="M454,1427H665M454,1331.5H665M454,1236H665M501,1163V1442M557,1163V1442M613,1163V1442"/>
</g>
<g stroke="#222" stroke-width="1.1" stroke-dasharray="4,3">
<path d="M463,1163V1442M538,1163V1442M454,1427H665"/>
</g>
<path d="M480,1429 Q483,1408 489,1397 Q494,1384 504,1388 Q512,1380 520,1390 Q529,1402 536,1429 Z" fill="#c9cbcf"/>
<g fill="#c9cbcf">
<circle cx="488" cy="1176" r="2.8"/><circle cx="514" cy="1163" r="2.8"/><circle cx="513" cy="1188" r="2.8"/><circle cx="511" cy="1281" r="2.8"/><circle cx="513" cy="1326" r="2.8"/><circle cx="522" cy="1349" r="2.8"/><circle cx="527" cy="1349" r="2.8"/><circle cx="504" cy="1360" r="2.8"/><circle cx="491" cy="1357" r="2.8"/><circle cx="511" cy="1361" r="2.8"/><circle cx="497" cy="1367" r="2.8"/><circle cx="514" cy="1363" r="2.8"/><circle cx="520" cy="1368" r="2.8"/><circle cx="488" cy="1370" r="2.8"/><circle cx="494" cy="1373" r="2.8"/><circle cx="508" cy="1375" r="2.8"/><circle cx="516" cy="1374" r="2.8"/><circle cx="522" cy="1379" r="2.8"/><circle cx="519" cy="1385" r="2.8"/><circle cx="527" cy="1374" r="2.8"/><circle cx="490" cy="1386" r="2.8"/><circle cx="493" cy="1390" r="2.8"/><circle cx="504" cy="1388" r="2.8"/><circle cx="511" cy="1390" r="2.8"/><circle cx="502" cy="1395" r="2.8"/><circle cx="507" cy="1398" r="2.8"/><circle cx="513" cy="1396" r="2.8"/><circle cx="518" cy="1393" r="2.8"/><circle cx="486" cy="1396" r="2.8"/><circle cx="484" cy="1402" r="2.8"/><circle cx="489" cy="1404" r="2.8"/><circle cx="496" cy="1401" r="2.8"/><circle cx="500" cy="1405" r="2.8"/><circle cx="505" cy="1407" r="2.8"/><circle cx="510" cy="1402" r="2.8"/><circle cx="516" cy="1406" r="2.8"/><circle cx="521" cy="1404" r="2.8"/><circle cx="525" cy="1408" r="2.8"/><circle cx="529" cy="1412" r="2.8"/><circle cx="533" cy="1415" r="2.8"/><circle cx="480" cy="1410" r="2.8"/><circle cx="485" cy="1413" r="2.8"/><circle cx="491" cy="1410" r="2.8"/><circle cx="497" cy="1413" r="2.8"/><circle cx="503" cy="1415" r="2.8"/><circle cx="509" cy="1412" r="2.8"/><circle cx="514" cy="1415" r="2.8"/><circle cx="520" cy="1417" r="2.8"/><circle cx="487" cy="1419" r="2.8"/><circle cx="493" cy="1420" r="2.8"/><circle cx="499" cy="1421" r="2.8"/><circle cx="505" cy="1420" r="2.8"/><circle cx="511" cy="1422" r="2.8"/><circle cx="517" cy="1421" r="2.8"/><circle cx="523" cy="1423" r="2.8"/><circle cx="529" cy="1424" r="2.8"/><circle cx="535" cy="1425" r="2.8"/><circle cx="483" cy="1423" r="2.8"/><circle cx="489" cy="1425" r="2.8"/><circle cx="495" cy="1426" r="2.8"/><circle cx="501" cy="1427" r="2.8"/><circle cx="507" cy="1426" r="2.8"/><circle cx="513" cy="1427" r="2.8"/><circle cx="519" cy="1426" r="2.8"/><circle cx="478" cy="1426" r="2.8"/><circle cx="530" cy="1418" r="2.8"/><circle cx="526" cy="1420" r="2.8"/><circle cx="534" cy="1420" r="2.8"/>
</g>
<g fill="#f07a55">
<circle cx="555" cy="1425" r="2.8"/><circle cx="595" cy="1422" r="2.8"/><circle cx="599" cy="1421" r="2.8"/><circle cx="601" cy="1424" r="2.8"/><circle cx="603" cy="1420" r="2.8"/><circle cx="605" cy="1422" r="2.8"/><circle cx="607" cy="1419" r="2.8"/><circle cx="609" cy="1421" r="2.8"/><circle cx="612" cy="1420" r="2.8"/><circle cx="614" cy="1418" r="2.8"/><circle cx="616" cy="1419" r="2.8"/><circle cx="611" cy="1423" r="2.8"/><circle cx="622" cy="1417" r="2.8"/><circle cx="638" cy="1412" r="2.8"/><circle cx="655" cy="1406" r="2.8"/><circle cx="583" cy="1163" r="2.8"/><circle cx="598" cy="1419" r="2.8"/><circle cx="604" cy="1425" r="2.8"/>
</g>
<path d="M454,1160V1442H665" fill="none" stroke="#444" stroke-width="1.3"/>
<g stroke="#444" stroke-width="1"><path d="M454,1427H450M454,1331.5H450M454,1236H450M501,1442V1446M557,1442V1446M613,1442V1446"/></g>
<g font-size="14" fill="#888"><text x="447" y="1432" text-anchor="end">0</text><text x="447" y="1337" text-anchor="end">100</text><text x="447" y="1241" text-anchor="end">200</text>
<g text-anchor="middle"><text x="501" y="1458">0</text><text x="557" y="1458">5</text><text x="613" y="1458">10</text></g></g>
<text x="583" y="1404" font-size="15" fill="#e8141c">19 Up</text>
<text transform="translate(413,1302) rotate(-90)" text-anchor="middle" font-size="20" fill="#222">-log<tspan font-size="13" dy="5">10</tspan><tspan dy="-5">(Adjusted P-value)</tspan></text>
<text x="560" y="1485" text-anchor="middle" font-size="20" fill="#222">log<tspan font-size="13" dy="5">2</tspan><tspan dy="-5">(Fold-change)</tspan></text>

<!-- Plot C -->
<text x="970" y="1142" text-anchor="middle" font-size="24" fill="#222" textLength="172" lengthAdjust="spacingAndGlyphs">Receiver vs Null</text>
<g stroke="#f2f2f2" stroke-width="0.8">
<path d="M864,1382H1076M864,1288H1076M864,1194H1076M888.5,1163V1442M933.5,1163V1442M978.5,1163V1442M1023.5,1163V1442M1068.5,1163V1442"/>
</g>
<g stroke="#e8e8e8" stroke-width="1.1">
<path d="M864,1429H1076M864,1335H1076M864,1241H1076M866,1163V1442M911,1163V1442M956,1163V1442M1001,1163V1442M1046,1163V1442"/>
</g>
<g stroke="#222" stroke-width="1.1" stroke-dasharray="4,3">
<path d="M926,1163V1442M986,1163V1442M864,1427H1076"/>
</g>
<path d="M937,1429 Q939,1410 945,1399 Q949,1377 956,1372 Q962,1386 966,1396 Q975,1406 981,1429 Z" fill="#c9cbcf"/>
<g fill="#c9cbcf">
<circle cx="939" cy="1176" r="2.8"/><circle cx="943" cy="1163" r="2.8"/><circle cx="946" cy="1241" r="2.8"/><circle cx="967" cy="1270" r="2.8"/><circle cx="942" cy="1304" r="2.8"/><circle cx="963" cy="1320" r="2.8"/><circle cx="963" cy="1356" r="2.8"/><circle cx="951" cy="1370" r="2.8"/><circle cx="955" cy="1364" r="2.8"/><circle cx="947" cy="1374" r="2.8"/><circle cx="953" cy="1378" r="2.8"/><circle cx="956" cy="1382" r="2.8"/><circle cx="952" cy="1386" r="2.8"/><circle cx="958" cy="1389" r="2.8"/><circle cx="944" cy="1385" r="2.8"/><circle cx="960" cy="1393" r="2.8"/><circle cx="963" cy="1398" r="2.8"/><circle cx="966" cy="1388" r="2.8"/><circle cx="971" cy="1382" r="2.8"/><circle cx="975" cy="1384" r="2.8"/><circle cx="947" cy="1392" r="2.8"/><circle cx="942" cy="1398" r="2.8"/><circle cx="938" cy="1402" r="2.8"/><circle cx="951" cy="1398" r="2.8"/><circle cx="955" cy="1402" r="2.8"/><circle cx="959" cy="1405" r="2.8"/><circle cx="964" cy="1408" r="2.8"/><circle cx="968" cy="1410" r="2.8"/><circle cx="972" cy="1412" r="2.8"/><circle cx="976" cy="1406" r="2.8"/><circle cx="940" cy="1408" r="2.8"/><circle cx="945" cy="1411" r="2.8"/><circle cx="950" cy="1413" r="2.8"/><circle cx="955" cy="1415" r="2.8"/><circle cx="960" cy="1417" r="2.8"/><circle cx="965" cy="1418" r="2.8"/><circle cx="970" cy="1420" r="2.8"/><circle cx="975" cy="1421" r="2.8"/><circle cx="979" cy="1422" r="2.8"/><circle cx="942" cy="1418" r="2.8"/><circle cx="947" cy="1420" r="2.8"/><circle cx="952" cy="1421" r="2.8"/><circle cx="957" cy="1423" r="2.8"/><circle cx="962" cy="1424" r="2.8"/><circle cx="967" cy="1425" r="2.8"/><circle cx="972" cy="1426" r="2.8"/><circle cx="944" cy="1425" r="2.8"/><circle cx="949" cy="1426" r="2.8"/><circle cx="954" cy="1427" r="2.8"/><circle cx="959" cy="1428" r="2.8"/><circle cx="964" cy="1428" r="2.8"/><circle cx="969" cy="1428" r="2.8"/><circle cx="939" cy="1422" r="2.8"/><circle cx="946" cy="1416" r="2.8"/><circle cx="958" cy="1410" r="2.8"/><circle cx="962" cy="1396" r="2.8"/><circle cx="949" cy="1405" r="2.8"/><circle cx="972" cy="1395" r="2.8"/><circle cx="968" cy="1400" r="2.8"/>
</g>
<g fill="#1f8fde">
<circle cx="873" cy="1420" r="2.8"/><circle cx="886" cy="1424" r="2.8"/><circle cx="894" cy="1424.5" r="2.8"/><circle cx="897" cy="1425" r="2.8"/><circle cx="899" cy="1425" r="2.8"/>
</g>
<g fill="#f07a55">
<circle cx="987" cy="1427" r="2.8"/><circle cx="993" cy="1426" r="2.8"/><circle cx="1012" cy="1425" r="2.8"/><circle cx="1015" cy="1424" r="2.8"/><circle cx="1018" cy="1424" r="2.8"/><circle cx="1021" cy="1423" r="2.8"/><circle cx="1024" cy="1423" r="2.8"/><circle cx="1027" cy="1422" r="2.8"/><circle cx="1030" cy="1422" r="2.8"/><circle cx="1033" cy="1421" r="2.8"/><circle cx="1036" cy="1421" r="2.8"/><circle cx="1038" cy="1422" r="2.8"/><circle cx="1040" cy="1420" r="2.8"/><circle cx="1016" cy="1425" r="2.8"/><circle cx="1022" cy="1425" r="2.8"/><circle cx="1028" cy="1424" r="2.8"/><circle cx="1034" cy="1423" r="2.8"/><circle cx="1040" cy="1423" r="2.8"/><circle cx="1042" cy="1419" r="2.8"/><circle cx="1045" cy="1419" r="2.8"/><circle cx="1048" cy="1420" r="2.8"/><circle cx="1044" cy="1418" r="2.8"/><circle cx="1050" cy="1418" r="2.8"/><circle cx="1052" cy="1418" r="2.8"/><circle cx="1051" cy="1420" r="2.8"/><circle cx="1052" cy="1424" r="2.8"/><circle cx="1063" cy="1411" r="2.8"/><circle cx="1066" cy="1411" r="2.8"/><circle cx="1005" cy="1163" r="2.8"/><circle cx="1025" cy="1425" r="2.8"/><circle cx="1031" cy="1425" r="2.8"/><circle cx="1037" cy="1424" r="2.8"/>
</g>
<path d="M864,1160V1442H1076" fill="none" stroke="#444" stroke-width="1.3"/>
<g stroke="#444" stroke-width="1"><path d="M864,1429H860M864,1335H860M864,1241H860M866,1442V1446M911,1442V1446M956,1442V1446M1001,1442V1446M1046,1442V1446"/></g>
<g font-size="14" fill="#888"><text x="857" y="1434" text-anchor="end">0</text><text x="857" y="1340" text-anchor="end">100</text><text x="857" y="1246" text-anchor="end">200</text>
<g text-anchor="middle"><text x="866" y="1458">-10</text><text x="911" y="1458">-5</text><text x="956" y="1458">0</text><text x="1001" y="1458">5</text><text x="1046" y="1458">10</text></g></g>
<text x="868" y="1404" font-size="15" fill="#1f7fd0">5 Down</text>
<text x="1012" y="1404" font-size="15" fill="#e8141c">38 Up</text>
<text transform="translate(823,1302) rotate(-90)" text-anchor="middle" font-size="20" fill="#222">-log<tspan font-size="13" dy="5">10</tspan><tspan dy="-5">(Adjusted P-value)</tspan></text>
<text x="970" y="1485" text-anchor="middle" font-size="20" fill="#222">log<tspan font-size="13" dy="5">2</tspan><tspan dy="-5">(Fold-change)</tspan></text>
<text x="1109" y="1338" font-size="14" fill="#222">Significant:</text>
<circle cx="1119" cy="1363" r="2.2" fill="#1f8fde"/><circle cx="1119" cy="1396" r="2.2" fill="#c9cbcf"/><circle cx="1119" cy="1429" r="2.2" fill="#f07a55"/>
<g font-size="15" fill="#222"><text x="1131" y="1368">Down</text><text x="1131" y="1401">Non</text><text x="1131" y="1434">Up</text></g>
</svg>
</body></html>
